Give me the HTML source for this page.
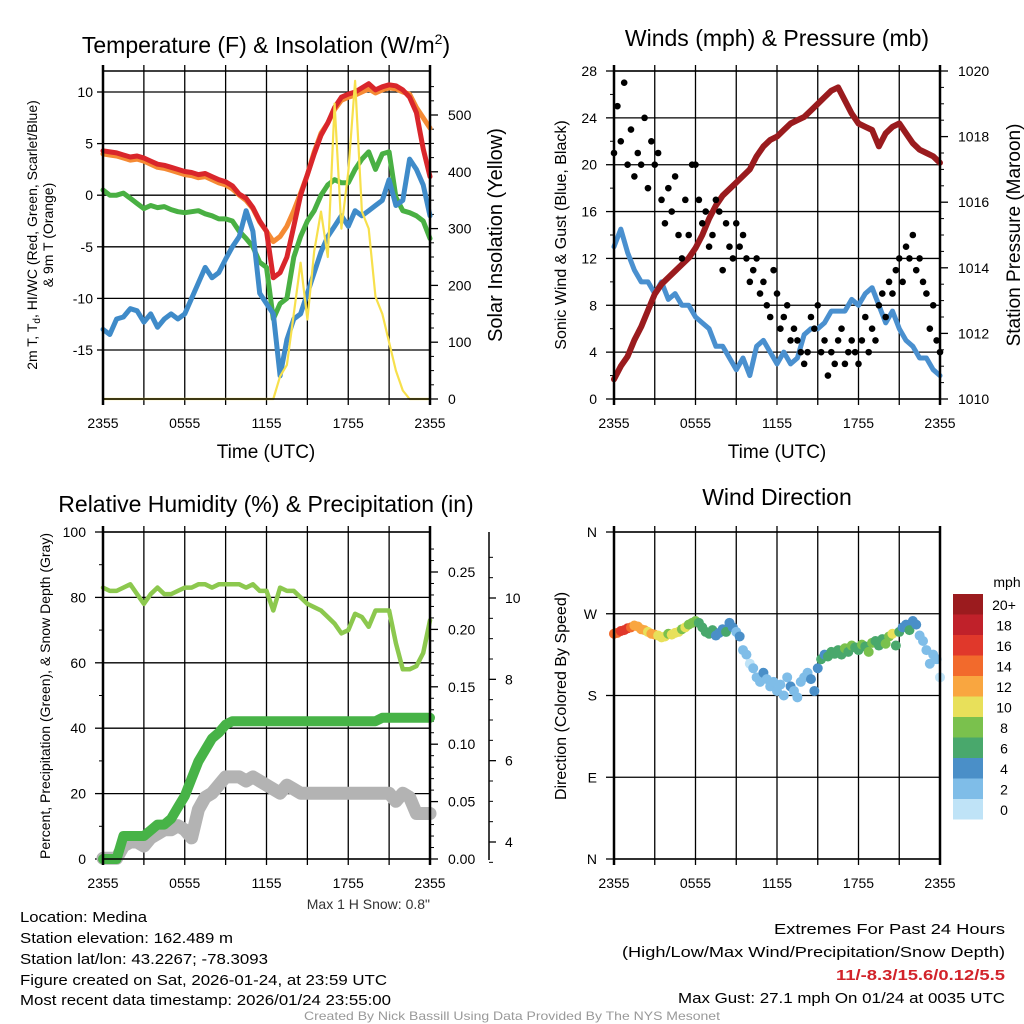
<!DOCTYPE html>
<html><head><meta charset="utf-8"><style>
html,body{margin:0;padding:0;background:#fff;}
svg{display:block;font-family:"Liberation Sans",sans-serif;}
</style></head><body>
<svg id="fig" width="1024" height="1024" viewBox="0 0 1024 1024" xmlns="http://www.w3.org/2000/svg"></svg>
<script>
// ---------- DATA (30-min steps, 0..24 h) ----------
const xTickLabels = ["2355","0555","1155","1755","2355"];
const tempRed = [4.3,4.2,4.1,3.9,3.7,3.8,3.6,3.3,3.0,2.9,2.7,2.5,2.3,2.2,2.0,2.1,1.8,1.5,1.3,0.9,0.1,-0.3,-1.2,-2.5,-3.5,-8.0,-7.5,-6.0,-3.0,0.0,2.0,4.0,5.8,7.0,8.5,9.5,9.8,10.0,10.4,10.8,10.2,10.5,10.7,10.6,10.2,9.5,8.0,4.5,1.8];
const tempOrange = [4.0,3.9,3.8,3.6,3.4,3.5,3.3,3.0,2.7,2.6,2.4,2.2,2.0,1.9,1.7,1.8,1.5,1.2,1.0,0.6,0.0,-0.5,-1.3,-2.6,-3.5,-4.5,-4.0,-3.0,-1.5,0.2,2.0,4.2,6.0,7.0,8.3,9.2,9.5,9.7,10.0,10.3,9.9,10.2,10.4,10.3,10.0,9.8,8.5,7.5,6.5];
const dewGreen = [0.5,0.0,0.0,0.2,-0.3,-0.8,-1.3,-1.0,-1.2,-1.1,-1.4,-1.6,-1.7,-1.6,-1.5,-1.8,-2.0,-2.3,-2.3,-2.5,-3.5,-4.2,-5.0,-6.5,-7.0,-12.0,-10.5,-10.0,-6.0,-4.0,-2.5,-1.5,0.0,1.0,1.5,1.2,1.2,2.5,3.5,4.2,2.5,4.0,4.2,-0.2,-1.5,-1.7,-2.0,-2.5,-4.2];
const chillBlue = [-13,-13.5,-12,-11.8,-11,-11.2,-12.3,-11.5,-12.8,-12,-11.5,-12,-11.5,-10,-8.5,-7,-8,-7.5,-6.2,-5,-4,-1.5,-3.5,-9.5,-10.5,-11.5,-17.5,-14,-12,-11.5,-9.5,-7.5,-5.5,-4,-3,-2,-3,-1.5,-2,-1.5,-1,-0.5,1.5,-1,-0.5,3.5,2.5,1,-2];
const solarYellow = [0,0,0,0,0,0,0,0,0,0,0,0,0,0,0,0,0,0,0,0,0,0,0,0,0,0,40,60,150,240,140,260,330,250,520,300,400,560,330,300,180,150,100,50,15,0,0,0,0];
const pressure = [1010.6,1011.0,1011.3,1011.8,1012.2,1012.7,1013.2,1013.5,1013.7,1013.9,1014.1,1014.3,1014.6,1015.0,1015.5,1015.9,1016.2,1016.4,1016.6,1016.8,1017.0,1017.4,1017.7,1017.9,1018.0,1018.2,1018.4,1018.5,1018.6,1018.8,1019.0,1019.2,1019.4,1019.5,1019.1,1018.7,1018.4,1018.3,1018.2,1017.7,1018.1,1018.3,1018.4,1018.1,1017.8,1017.6,1017.5,1017.4,1017.2];
const windSonic = [13,14.5,12.5,11,10,10,9,10,8.5,9,8,8,7,6.5,6,4.5,4.5,3.5,2.5,3.5,2,4.5,5,4,3,4,3,3.5,5.5,6,6,6.5,7.5,7.5,7.5,8.5,8,9,9.5,8,6.5,7.5,6,5,4.5,3.5,3.5,2.5,2];
// 15-min steps
const gust = [21,25,22,27,20,23,19,21,20,24,18,22,20,21,17,15,18,16,19,14,12,17,14,20,20,17,15,16,13,14,17,16,11,15,13,12,15,13,14,12,10,11,12,9,10,8,7,11,9,6,7,8,5,6,5,4,3,4,7,6,8,4,5,2,4,3,5,6,3,4,5,4,3,5,7,4,6,5,8,9,7,10,9,11,12,10,13,12,14,11,12,10,9,6,8,5,4];
const windDir = [248,249,251,252,254,255,257,256,253,252,250,248,247,246,244,245,248,247,249,250,253,255,258,260,262,260,255,250,248,252,246,249,253,250,260,255,250,245,230,225,215,210,200,195,205,198,190,195,185,192,180,200,190,185,178,195,200,205,198,185,210,220,225,223,228,226,230,225,232,228,235,233,230,236,234,228,238,240,235,242,237,245,248,235,250,255,258,252,262,258,246,240,230,215,225,220,200];
const dirSpeed = [14,15,16,17,16,14,13,12,12,13,11,12,12,11,10,11,9,10,11,10,9,10,8,8,8,7,7,6,7,6,5,4,5,6,4,4,3,4,2,2,1,2,3,3,4,3,2,3,3,2,3,2,4,3,3,2,3,3,4,4,5,6,5,6,7,6,7,6,8,7,8,7,7,8,7,8,9,7,6,7,8,9,10,7,6,5,4,6,5,4,3,2,3,2,3,2,1];
const speedBinLabels = ["20+","18","16","14","12","10","8","6","4","2","0"];
const rh = [83,82,82,83,84,81,78,81,83,81,81,82,83,83,84,84,83,84,84,84,84,83,84,82,82,76,83,82,82,80,78,77,76,74,72,69,70,75,74,71,76,76,76,66,58,58,59,63,73];
const precip = [0,0,0,0.02,0.02,0.02,0.02,0.025,0.03,0.03,0.035,0.045,0.055,0.07,0.085,0.095,0.105,0.11,0.117,0.12,0.12,0.12,0.12,0.12,0.12,0.12,0.12,0.12,0.12,0.12,0.12,0.12,0.12,0.12,0.12,0.12,0.12,0.12,0.12,0.12,0.12,0.123,0.123,0.123,0.123,0.123,0.123,0.123,0.123];
const snowDepth = [3.6,3.6,3.6,3.9,4.0,4.0,3.9,4.1,4.2,4.3,4.3,4.4,4.3,4.1,4.8,5.1,5.2,5.4,5.6,5.6,5.6,5.5,5.6,5.5,5.4,5.3,5.2,5.4,5.3,5.2,5.2,5.2,5.2,5.2,5.2,5.2,5.2,5.2,5.2,5.2,5.2,5.2,5.2,5.0,5.2,5.1,4.7,4.7,4.7];

// ---------- helpers ----------
const NS="http://www.w3.org/2000/svg";
const svg=document.getElementById('fig');
function el(tag,attrs,parent,text){const e=document.createElementNS(NS,tag);for(const k in attrs)e.setAttribute(k,attrs[k]);if(text!==undefined)e.textContent=text;(parent||svg).appendChild(e);return e;}
function lin(d0,d1,r0,r1){return v=>r0+(v-d0)*(r1-r0)/(d1-d0);}
function txt(x,y,s,size,anchor,extra){const t=el('text',Object.assign({x:x,y:y,'font-size':size,'text-anchor':anchor||'middle',fill:'#000'},extra||{}),svg,s);return t;}
function vtxt(x,y,s,size){const t=el('text',{x:0,y:0,'font-size':size,'text-anchor':'middle',fill:'#000',transform:`translate(${x},${y}) rotate(-90)`},svg,s);return t;}

function frame(x0,x1,y0,y1,name){
  const g=el('g',{});
  
  
  for(let i=0;i<=8;i++){const x=x0+(x1-x0)*i/8;el('line',{x1:x,x2:x,y1:y0,y2:y1,stroke:'#000','stroke-width':1.3},g);
    el('line',{x1:x,x2:x,y1:y1,y2:y1+6,stroke:'#000','stroke-width':1.3},g);el('line',{x1:x,x2:x,y1:y0,y2:y0-6,stroke:'#000','stroke-width':1.3},g);}
  const xs=lin(0,4,x0,x1);
  xTickLabels.forEach((l,i)=>{const t=txt(xs(i),y1+29,l,14);});
  return g;
}
function hgrid(y,x0,x1,g){el('line',{x1:x0,x2:x1,y1:y,y2:y,stroke:'#000','stroke-width':1.3},g);}
function border(x0,x1,y0,y1){el('rect',{x:x0,y:y0,width:x1-x0,height:y1-y0,fill:'none',stroke:'#000','stroke-width':1.5});
  el('line',{x1:x0,x2:x0,y1:y0-6,y2:y1+6,stroke:'#000','stroke-width':2.5});el('line',{x1:x1,x2:x1,y1:y0-6,y2:y1+6,stroke:'#000','stroke-width':2.5});}
function poly(arr,xs,ys,color,w,name){const step=24/(arr.length-1);const pts=arr.map((v,i)=>xs(i*step).toFixed(1)+','+ys(v).toFixed(1)).join(' ');
  const p=el('polyline',{points:pts,fill:'none',stroke:color,'stroke-width':w,'stroke-linejoin':'round','stroke-linecap':'round'});
  return p;}

// ================= Panel 1: Temperature =================
{
const X0=103,X1=430,Y0=71,Y1=399;
const xs=lin(0,24,X0,X1), ys=lin(10,-15,92,350), yr=lin(0,500,399,115);
const g=frame(X0,X1,Y0,Y1,'temperature');
[10,5,0,-5,-10,-15].forEach(v=>{hgrid(ys(v),X0,X1,g);el('line',{x1:X0-6,x2:X0,y1:ys(v),y2:ys(v),stroke:'#000','stroke-width':1.3});
  const t=txt(X0-10,ys(v)+5,String(v),14,'end');});
[0,100,200,300,400,500].forEach(v=>{el('line',{x1:X1,x2:X1+8,y1:yr(v),y2:yr(v),stroke:'#000','stroke-width':1.3});
  const t=txt(X1+18,yr(v)+5,String(v),14,'start');});
for(let v=25;v<560;v+=25){if(v%100)el('line',{x1:X1,x2:X1+4,y1:yr(v),y2:yr(v),stroke:'#000','stroke-width':1});}
poly(tempOrange,xs,ys,'#f58a34',5,'series-9m-temp-orange');
poly(tempRed,xs,ys,'#d9262b',5,'series-2m-temp-red');
poly(dewGreen,xs,ys,'#49b043',5,'series-dewpoint-green');
poly(chillBlue,xs,ys,'#3f8bc9',5,'series-windchill-blue');
poly(solarYellow,xs,yr,'#f7e04c',2.2,'series-solar-yellow');
border(X0,X1,Y0,Y1);
let t=txt(266,53,'',23);
t.innerHTML='Temperature (F) &amp; Insolation (W/m<tspan dy="-9" font-size="14">2</tspan><tspan dy="9">)</tspan>';
t=txt(266,458,'Time (UTC)',19);
t=vtxt(37,235,'',14);
t.innerHTML='2m T, T<tspan font-size="10" dy="3">d</tspan><tspan dy="-3">, HI/WC (Red, Green, Scarlet/Blue)</tspan>';
t=vtxt(53,235,'& 9m T (Orange)',14);
t=vtxt(502,235,'Solar Insolation (Yellow)',20);
}

// ================= Panel 2: Winds =================
{
const X0=614,X1=940,Y0=71,Y1=399;
const xs=lin(0,24,X0,X1), ys=lin(0,28,399,71), yp=lin(1010,1020,399,71);
const g=frame(X0,X1,Y0,Y1,'winds');
for(let v=0;v<=28;v+=4){hgrid(ys(v),X0,X1,g);el('line',{x1:X0-8,x2:X0,y1:ys(v),y2:ys(v),stroke:'#000','stroke-width':1.3});
  const t=txt(X0-17,ys(v)+5,String(v),14,'end');}
for(let v=2;v<28;v+=4)el('line',{x1:X0-4,x2:X0,y1:ys(v),y2:ys(v),stroke:'#000','stroke-width':1});
for(let v=1010;v<=1020;v+=2){el('line',{x1:X1,x2:X1+8,y1:yp(v),y2:yp(v),stroke:'#000','stroke-width':1.3});
  const t=txt(X1+18,yp(v)+5,String(v),14,'start');}
for(let v=1010.5;v<1020;v+=0.5){if(v%2)el('line',{x1:X1,x2:X1+4,y1:yp(v),y2:yp(v),stroke:'#000','stroke-width':1});}
poly(windSonic,xs,ys,'#4a90cf',5,'series-sonic-wind-blue');
poly(pressure,xs,yp,'#9a1b1e',6,'series-pressure-maroon');
const gg=el('g',{});
gust.forEach((v,i)=>{const c=el('circle',{cx:xs(i*24/(gust.length-1)),cy:ys(v),r:3.3,fill:'#000'},gg);});
border(X0,X1,Y0,Y1);
let t=txt(777,46,'Winds (mph) & Pressure (mb)',23);
t=txt(777,458,'Time (UTC)',19);
t=vtxt(566,235,'Sonic Wind & Gust (Blue, Black)',16);
t=vtxt(1020,235,'Station Pressure (Maroon)',19);
}

// ================= Panel 3: RH & Precip =================
{
const X0=103,X1=430,Y0=532,Y1=859;
const xs=lin(0,24,X0,X1), ys=lin(0,100,859,532), yp=lin(0,0.25,859,572), yn=lin(4,10,842,598);
const g=frame(X0,X1,Y0,Y1,'humidity');
for(let v=0;v<=100;v+=20){hgrid(ys(v),X0,X1,g);el('line',{x1:X0-8,x2:X0,y1:ys(v),y2:ys(v),stroke:'#000','stroke-width':1.3});
  const t=txt(X0-17,ys(v)+5,String(v),14,'end');}
for(let v=10;v<100;v+=20)el('line',{x1:X0-4,x2:X0,y1:ys(v),y2:ys(v),stroke:'#000','stroke-width':1});
for(let k=0;k<=5;k++){const v=k*0.05;el('line',{x1:X1,x2:X1+8,y1:yp(v),y2:yp(v),stroke:'#000','stroke-width':1.3});
  const t=txt(X1+18,yp(v)+5,v.toFixed(2),14,'start');}
for(let k=1;k<28;k++){if(k%5)el('line',{x1:X1,x2:X1+4,y1:yp(k*0.01),y2:yp(k*0.01),stroke:'#000','stroke-width':1});}
el('line',{x1:489,x2:489,y1:532,y2:860,stroke:'#000','stroke-width':1.5});
[4,6,8,10].forEach(v=>{el('line',{x1:489,x2:496,y1:yn(v),y2:yn(v),stroke:'#000','stroke-width':1.3});
  const t=txt(505,yn(v)+5,String(v),14,'start');});
for(let v=3.5;v<11.3;v+=0.5){if(v%2)el('line',{x1:489,x2:493,y1:yn(v),y2:yn(v),stroke:'#000','stroke-width':1});}
poly(snowDepth,xs,yn,'#b3b3b3',13,'series-snow-depth-gray');
poly(precip,xs,yp,'#47b347',10,'series-precip-green');
poly(rh,xs,ys,'#8cc84e',4.5,'series-rh-lightgreen');
border(X0,X1,Y0,Y1);
let t=txt(266,512,'Relative Humidity (%) & Precipitation (in)',23);
t=vtxt(50,696,'Percent, Precipitation (Green), & Snow Depth (Gray)',14);
t=txt(430,909,'Max 1 H Snow: 0.8"',14,'end',{fill:'#333'});
}

// ================= Panel 4: Wind direction =================
{
const X0=614,X1=940,Y0=532,Y1=859;
const xs=lin(0,24,X0,X1), ys=lin(0,360,859,532);
const g=frame(X0,X1,Y0,Y1,'wind-direction');
const cols=['#bfe3f7','#7fbde8','#4a8fc8','#49a86c','#7ac14d','#e8e05a','#f9a640','#f26a2c','#e0382b','#c0212a','#9b1b1e'];
['N','E','S','W','N'].forEach((l,i)=>{const v=i*90;hgrid(ys(v),X0,X1,g);el('line',{x1:X0-8,x2:X0,y1:ys(v),y2:ys(v),stroke:'#000','stroke-width':1.3});
  const t=txt(X0-17,ys(v)+5,l,14,'end');});
const dg=el('g',{});
windDir.forEach((d,i)=>{const b=Math.min(10,Math.floor(dirSpeed[i]/2));
  const c=el('circle',{cx:xs(i*24/(windDir.length-1)),cy:ys(d),r:5,fill:cols[b]},dg);});
border(X0,X1,Y0,Y1);
const lg=el('g',{});
speedBinLabels.forEach((l,k)=>{const y=594+k*20.5;el('rect',{x:953,y:y,width:30,height:20.5,fill:cols[10-k]},lg);
  const t=el('text',{x:1004,y:y+16,'font-size':14,'text-anchor':'middle'},lg,l);});
let t=txt(1007,587,'mph',14);
t=txt(777,505,'Wind Direction',23);
t=vtxt(566,696,'Direction (Colored By Speed)',16);
}

// ================= Footer text =================
const leftLines=[['Location: Medina',922,127],['Station elevation: 162.489 m',943,213],['Station lat/lon: 43.2267; -78.3093',964,248],['Figure created on Sat, 2026-01-24, at 23:59 UTC',985,367],['Most recent data timestamp: 2026/01/24 23:55:00',1005,371]];
leftLines.forEach(([s,y,w])=>{const t=txt(20,y,s,15,'start',{textLength:w,lengthAdjust:'spacingAndGlyphs'});});
const rightLines=[['Extremes For Past 24 Hours',934,231,'#000','normal'],['(High/Low/Max Wind/Precipitation/Snow Depth)',957,383,'#000','normal'],['11/-8.3/15.6/0.12/5.5',980,169,'#d2232a','bold'],['Max Gust: 27.1 mph On 01/24 at 0035 UTC',1003,327,'#000','normal']];
rightLines.forEach(([s,y,w,c,fw])=>{const t=txt(1005,y,s,15,'end',{textLength:w,lengthAdjust:'spacingAndGlyphs',fill:c,'font-weight':fw});});
{const t=txt(512,1020,'Created By Nick Bassill Using Data Provided By The NYS Mesonet',12,'middle',{fill:'#999',textLength:416,lengthAdjust:'spacingAndGlyphs'});}
</script>
</body></html>
